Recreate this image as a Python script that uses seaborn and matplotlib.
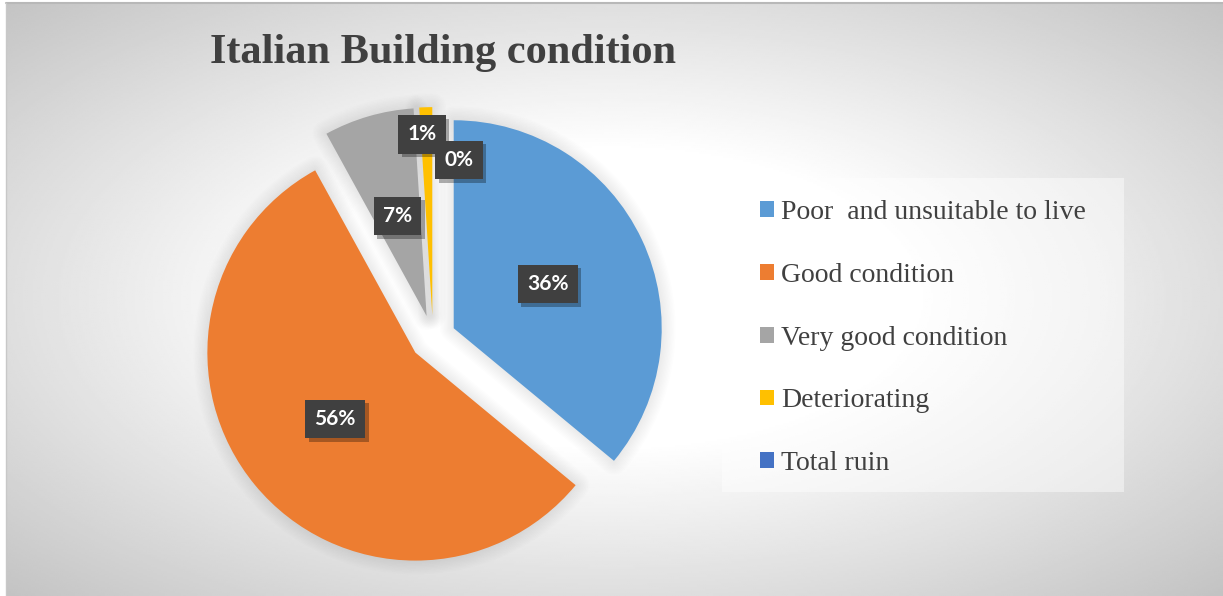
import numpy as np
import matplotlib
matplotlib.use("Agg")
import matplotlib.pyplot as plt
import matplotlib.patheffects as pe
from matplotlib.patches import Rectangle, Wedge
import seaborn as sns

# ---- data -------------------------------------------------------------
categories = ["Poor  and unsuitable to live", "Good condition",
              "Very good condition", "Deteriorating", "Total ruin"]
shares = [36, 56, 7, 1, 0]
slice_colors = ["#5B9BD5", "#ED7D31", "#A5A5A5", "#FFC000", "#4472C4"]
title_text = "Italian Building condition"

# ---- style ------------------------------------------------------------
sns.set_theme(style="white")
plt.rcParams["font.family"] = ["Liberation Serif", "DejaVu Serif"]
palette = sns.color_palette(slice_colors)
ink = "#404040"

W, H = 1223, 596
fig = plt.figure(figsize=(W / 100, H / 100), dpi=100)
fig.patch.set_facecolor("white")
ax = fig.add_axes([0, 0, 1, 1])

# chart area with a soft radial grey gradient
x0, x1, y0, y1 = 6, W, 0, H - 3
xx, yy = np.meshgrid(np.linspace(x0, x1, 610), np.linspace(y0, y1, 300))
t = np.hypot((xx - 612) / 606, (yy - 298) / 296)
shade = (255 - 65 * np.clip(t - 0.5, 0, None)) / 255
ax.imshow(shade, extent=(x0, x1, y0, y1), origin="lower", cmap="gray",
          vmin=0, vmax=1, aspect="auto", interpolation="bilinear", zorder=0)
ax.plot([x0, x1], [y1, y1], color="#b8b8b8", lw=1.5, zorder=0.2)
ax.plot([x0, x0], [y0, y1], color="#c8c8c8", lw=1.0, zorder=0.2)

# ---- pie --------------------------------------------------------------
center = (433, H - 338)
radius = 208
pull = 0.11 * radius          # every slice pulled out by 11 % of the radius
wedges, _, pct_texts = ax.pie(
    shares, colors=palette, startangle=90, counterclock=False,
    explode=[pull] * len(shares), radius=radius, center=center,
    autopct="%1.0f%%", pctdistance=0.5, frame=True,
    wedgeprops=dict(linewidth=0, zorder=2),
    textprops=dict(color="white", fontsize=15, fontweight="bold",
                   family=["Lato", "DejaVu Sans"], zorder=5),
)

# soft shadow around each slice
for w in wedges:
    if w.theta2 - w.theta1 <= 0:
        continue
    for lw in np.arange(2, 22, 2):
        ax.add_patch(Wedge(w.center, w.r, w.theta1, w.theta2,
                           fc="none", ec=(0, 0, 0, 0.008), lw=lw,
                           joinstyle="round", zorder=1))

# small slices get their labels moved out of the way (distance, angle)
label_moves = {3: (0.98, -3.1), 4: (0.865, 8.3)}
for i, (d, ang) in label_moves.items():
    th = np.deg2rad(ang)
    pct_texts[i].set_position((center[0] + d * radius * np.sin(th),
                               center[1] + d * radius * np.cos(th)))

for txt in pct_texts:
    txt.set_bbox(dict(boxstyle="square,pad=0.44", fc=ink, ec="none"))
    txt.get_bbox_patch().set_path_effects(
        [pe.SimplePatchShadow(offset=(2.5, -2.5), shadow_rgbFace="black",
                              alpha=0.3), pe.Normal()])

# ---- legend -----------------------------------------------------------
ax.add_patch(Rectangle((722, H - 492), 402, 314, fc="white", alpha=0.45,
                       ec="none", zorder=1))
ax.legend(wedges, categories, loc="upper left",
          bbox_to_anchor=(760, H - 200), bbox_transform=ax.transData,
          frameon=False, prop=dict(family="Liberation Serif", size=20),
          labelcolor=ink, handlelength=0.5, handleheight=0.5,
          handletextpad=0.25, labelspacing=1.36, borderpad=0,
          borderaxespad=0)

# ---- title ------------------------------------------------------------
ax.text(210, H - 63, title_text, fontsize=30.5, fontweight="bold",
        color=ink, family=["Liberation Serif", "DejaVu Serif"],
        va="baseline", ha="left", zorder=5)

ax.set_xlim(0, W)
ax.set_ylim(0, H)
ax.axis("off")

fig.savefig("out.png", dpi=100)
